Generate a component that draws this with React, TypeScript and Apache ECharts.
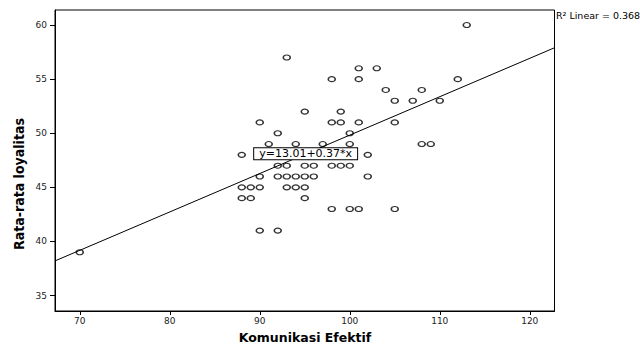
import React, { useEffect, useRef } from "react";
import * as echarts from "echarts";

// Komunikasi Efektif (x) and Rata-rata loyalitas (y)
const komunikasi = [
  70, 88, 88, 88, 89, 89, 90, 90, 90, 90, 90, 91, 92, 92, 92, 92, 93, 93, 93, 93,
  94, 94, 94, 95, 95, 95, 95, 95, 96, 96, 97, 98, 98, 98, 98, 99, 99, 99, 100, 100,
  100, 100, 101, 101, 101, 101, 102, 102, 103, 104, 105, 105, 105, 107, 108, 108, 109, 110, 112, 113,
];
const loyalitas = [
  39, 48, 45, 44, 45, 44, 51, 48, 46, 45, 41, 49, 50, 47, 46, 41, 57, 47, 46, 45,
  49, 46, 45, 52, 47, 46, 45, 44, 47, 46, 49, 55, 51, 47, 43, 52, 51, 47, 50, 49,
  47, 43, 56, 55, 51, 43, 48, 46, 56, 54, 53, 51, 43, 53, 54, 49, 49, 53, 55, 60,
];

// Fit line end points
const fitX = [67.25, 122.75];
const fitY = [38.2, 57.9];

const xTicks = [70, 80, 90, 100, 110, 120];
const yTicks = [35, 40, 45, 50, 55, 60];

const xRange = [67.25, 122.75];
const yRange = [33.57, 61.39];

const equationLabel = "y=13.01+0.37*x";
const equationAnchor = [95.1, 48.1];
const rSquaredLabel = "R² Linear = 0.368";
const xTitle = "Komunikasi Efektif";
const yTitle = "Rata-rata loyalitas";

const ellipse = "path://M0 5 A7 5 0 1 0 14 5 A7 5 0 1 0 0 5 Z";

export default function App() {
  const ref = useRef<HTMLDivElement>(null);

  useEffect(() => {
    if (!ref.current) return;
    const chart = echarts.init(ref.current, undefined, { renderer: "svg" });
    const tickFont = { fontSize: 9, fontFamily: "DejaVu Sans", color: "#222" };
    chart.setOption({
      animation: false,
      backgroundColor: "#fff",
      grid: {
        left: 55,
        right: 85.5,
        top: 10,
        bottom: 34,
        show: true,
        borderColor: "#000",
        borderWidth: 1,
        backgroundColor: "transparent",
        outerBoundsMode: "none",
      },
      xAxis: {
        type: "value",
        min: xRange[0],
        max: xRange[1],
        axisLine: { show: true, onZero: false, lineStyle: { color: "#000", width: 1 } },
        axisTick: { show: true, customValues: xTicks, length: 4, lineStyle: { color: "#000" } },
        axisLabel: { customValues: xTicks, margin: 5, ...tickFont },
        splitLine: { show: false },
      },
      yAxis: {
        type: "value",
        min: yRange[0],
        max: yRange[1],
        axisLine: { show: true, onZero: false, lineStyle: { color: "#000", width: 1 } },
        axisTick: { show: true, customValues: yTicks, length: 5, lineStyle: { color: "#000" } },
        axisLabel: { customValues: yTicks, margin: 8, ...tickFont },
        splitLine: { show: false },
      },
      series: [
        {
          type: "scatter",
          z: 2,
          symbol: ellipse,
          symbolSize: [7, 5],
          itemStyle: { color: "transparent", borderColor: "#000", borderWidth: 1.3 },
          data: komunikasi.map((x, i) => [x, loyalitas[i]]),
        },
        {
          type: "line",
          z: 3,
          symbol: "none",
          lineStyle: { color: "#000", width: 1 },
          data: fitX.map((x, i) => [x, fitY[i]]),
          markPoint: {
            symbol: "rect",
            symbolSize: 1,
            itemStyle: { color: "transparent" },
            label: {
              show: true,
              position: "inside",
              formatter: equationLabel,
              backgroundColor: "#fff",
              borderColor: "#000",
              borderWidth: 1,
              padding: [1, 5, 0, 5],
              fontSize: 11,
              lineHeight: 10,
              fontFamily: "DejaVu Sans",
              color: "#000",
            },
            data: [{ coord: equationAnchor }],
          },
        },
      ],
      graphic: [
        {
          type: "text",
          x: 556,
          y: 15,
          style: {
            text: rSquaredLabel,
            fontSize: 9.5,
            fontFamily: "DejaVu Sans",
            fill: "#000",
            verticalAlign: "middle",
          },
        },
        {
          type: "text",
          x: 19,
          y: 184,
          rotation: Math.PI / 2,
          style: {
            text: yTitle,
            fontSize: 14,
            fontWeight: "bold",
            fontFamily: "'DejaVu Sans Condensed', 'DejaVu Sans'",
            fill: "#000",
            align: "center",
            verticalAlign: "middle",
          },
        },
        {
          type: "text",
          x: 305,
          y: 337,
          style: {
            text: xTitle,
            fontSize: 12.5,
            fontWeight: "bold",
            fontFamily: "DejaVu Sans",
            fill: "#000",
            align: "center",
            verticalAlign: "middle",
          },
        },
      ],
    });
    return () => chart.dispose();
  }, []);

  return (
    <div
      ref={ref}
      style={{ position: "fixed", left: 0, top: 0, width: 640, height: 345 }}
    />
  );
}
